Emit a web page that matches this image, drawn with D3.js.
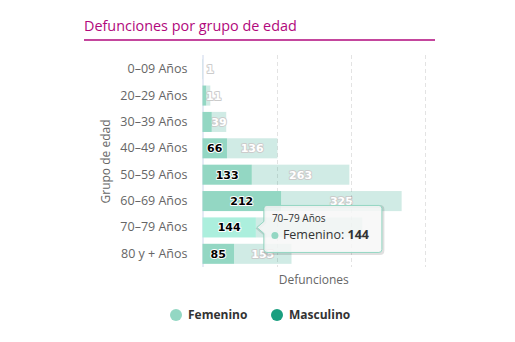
<!DOCTYPE html>
<html>
<head>
<meta charset="utf-8">
<script src="https://cdn.jsdelivr.net/npm/d3@7"></script>
<style>
  body { margin: 0; background: #fff; }
  svg { display: block; font-family: "Open Sans", sans-serif; }
</style>
</head>
<body>
<div class="chart"></div>
<script>
var svgWidth = 515;
var svgHeight = 342;

// age groups and deaths by sex
var grupos = ["0–09 Años", "20–29 Años", "30–39 Años", "40–49 Años", "50–59 Años", "60–69 Años", "70–79 Años", "80 y + Años"];
var femenino = [0, 10, 25, 66, 133, 212, 144, 85];
var masculino = [1, 11, 39, 136, 263, 325, 287, 155];
var xTicks = [0, 200, 400, 600];

var colorFem = "#93d7c3";
var colorFemHover = "#acefdd";
var colorMasc = "#1a9e7f";

// plot area
var plot = { left: 202.5, right: 425, top: 56, bottom: 267 };

var svg = d3.select(".chart")
    .append("svg")
    .attr("width", svgWidth)
    .attr("height", svgHeight);

// title with underline
svg.append("text")
    .attr("x", 84)
    .attr("y", 31)
    .attr("fill", "#b1087c")
    .attr("font-size", "14.4px")
    .text("Defunciones por grupo de edad");

svg.append("line")
    .attr("x1", 84).attr("x2", 435)
    .attr("y1", 40).attr("y2", 40)
    .attr("stroke", "#b1087c")
    .attr("stroke-width", 1.5);

var xScale = d3.scaleLinear()
    .domain([0, 600])
    .range([plot.left, plot.right]);

var yScale = d3.scaleBand()
    .domain(grupos)
    .range([plot.top, plot.bottom])
    .paddingInner(0.24)
    .paddingOuter(0.12);

// dashed gridlines
svg.append("g")
    .selectAll("line")
    .data(xTicks.slice(1))
    .enter()
    .append("line")
    .attr("x1", d => Math.round(xScale(d)) + 0.5)
    .attr("x2", d => Math.round(xScale(d)) + 0.5)
    .attr("y1", plot.top - 1)
    .attr("y2", plot.bottom)
    .attr("stroke", "#e3e3e3")
    .attr("stroke-dasharray", "4,3");

// category axis
var leftAxis = d3.axisLeft(yScale).tickSize(0).tickPadding(15);
var yAxis = svg.append("g")
    .attr("transform", `translate(${plot.left}, 0)`)
    .call(leftAxis);
yAxis.select(".domain")
    .attr("stroke", "#ccd6eb")
    .attr("d", `M0.5,${plot.top - 1}V${plot.bottom}`);
yAxis.selectAll("text")
    .attr("fill", "#666")
    .attr("font-size", "12.5px")
    .attr("font-family", "Open Sans, sans-serif");

svg.append("text")
    .attr("transform", `translate(110, ${(plot.top + plot.bottom) / 2}) rotate(-90)`)
    .attr("text-anchor", "middle")
    .attr("fill", "#666")
    .attr("font-size", "12px")
    .text("Grupo de edad");

svg.append("text")
    .attr("x", (plot.left + plot.right) / 2)
    .attr("y", 284)
    .attr("text-anchor", "middle")
    .attr("fill", "#666")
    .attr("font-size", "12px")
    .text("Defunciones");

// stacked rows: femenino first, masculino on top of it
var rows = grupos.map(function (g, i) {
    return { grupo: g, fem: femenino[i], masc: masculino[i] };
});

var hovered = "70–79 Años";

// masculino series is drawn faded (inactive while femenino is hovered)
var mascGroup = svg.append("g").attr("opacity", 0.2);
mascGroup.selectAll("rect")
    .data(rows)
    .enter()
    .append("rect")
    .attr("x", d => xScale(d.fem))
    .attr("y", d => yScale(d.grupo))
    .attr("width", d => xScale(d.fem + d.masc) - xScale(d.fem))
    .attr("height", yScale.bandwidth())
    .attr("fill", colorMasc);

var femGroup = svg.append("g");
femGroup.selectAll("rect")
    .data(rows)
    .enter()
    .append("rect")
    .attr("x", xScale(0))
    .attr("y", d => yScale(d.grupo))
    .attr("width", d => xScale(d.fem) - xScale(0))
    .attr("height", yScale.bandwidth())
    .attr("fill", d => d.grupo === hovered ? colorFemHover : colorFem);

// data labels; text colour contrasts with the bar, outline the opposite
function addLabels(group, data, x0, x1, val, always, fill, outline) {
    group.selectAll("text.lbl")
        .data(data)
        .enter()
        .append("text")
        .attr("class", "lbl")
        .attr("x", function (d) {
            var c = (xScale(x0(d)) + xScale(x1(d))) / 2;
            return Math.max(c, plot.left + 4 + String(val(d)).length * 3.6);
        })
        .attr("y", d => yScale(d.grupo) + yScale.bandwidth() / 2)
        .attr("dy", "0.36em")
        .attr("text-anchor", "middle")
        .attr("font-family", "DejaVu Sans, Verdana, sans-serif")
        .attr("font-size", "11px")
        .attr("font-weight", "bold")
        .attr("fill", fill)
        .attr("stroke", outline)
        .attr("stroke-width", 2)
        .attr("stroke-linejoin", "round")
        .attr("paint-order", "stroke")
        .attr("display", function (d) {
            var w = xScale(x1(d)) - xScale(x0(d));
            return (always || w > String(val(d)).length * 7.5) ? null : "none";
        })
        .text(val);
}

// the masculino label of the hovered row sits under the tooltip
addLabels(mascGroup, rows.filter(d => d.grupo !== hovered), d => d.fem, d => d.fem + d.masc, d => d.masc, true, "#fff", "#000");
addLabels(femGroup, rows, d => 0, d => d.fem, d => d.fem, false, "#000", "#fff");

// tooltip for the hovered femenino point
var hp = rows.find(d => d.grupo === hovered);
var tipX = xScale(hp.fem) + 1;
var tipY = yScale(hp.grupo) + yScale.bandwidth() / 2;
var box = { x: tipX + 7, y: tipY - 22, w: 118, h: 47 };

var tip = svg.append("g");
var tipPath = `M${box.x + 3},${box.y} H${box.x + box.w - 3} Q${box.x + box.w},${box.y} ${box.x + box.w},${box.y + 3}` +
    ` V${box.y + box.h - 3} Q${box.x + box.w},${box.y + box.h} ${box.x + box.w - 3},${box.y + box.h}` +
    ` H${box.x + 3} Q${box.x},${box.y + box.h} ${box.x},${box.y + box.h - 3}` +
    ` V${tipY + 6} L${tipX},${tipY} L${box.x},${tipY - 6} V${box.y + 3} Q${box.x},${box.y} ${box.x + 3},${box.y} Z`;

tip.append("path")
    .attr("d", tipPath)
    .attr("transform", "translate(1,1)")
    .attr("fill", "none")
    .attr("stroke", "rgba(0,0,0,0.12)")
    .attr("stroke-width", 3);
tip.append("path")
    .attr("d", tipPath)
    .attr("fill", "rgba(247,247,247,0.85)")
    .attr("stroke", colorFem)
    .attr("stroke-width", 1);
tip.append("text")
    .attr("x", box.x + 8)
    .attr("y", box.y + 17)
    .attr("font-size", "10px")
    .attr("fill", "#333")
    .text(hp.grupo);
tip.append("circle")
    .attr("cx", box.x + 11)
    .attr("cy", box.y + 30)
    .attr("r", 3.5)
    .attr("fill", colorFem);
var tipLine = tip.append("text")
    .attr("x", box.x + 19)
    .attr("y", box.y + 34)
    .attr("font-size", "12.5px")
    .attr("fill", "#333");
tipLine.append("tspan").text("Femenino: ");
tipLine.append("tspan").attr("font-weight", "bold").text(hp.fem);

// legend
var series = [
    { name: "Femenino", color: colorFem, x: 176 },
    { name: "Masculino", color: colorMasc, x: 277 }
];
var legend = svg.append("g").selectAll("g")
    .data(series)
    .enter()
    .append("g")
    .attr("transform", d => `translate(${d.x}, 315)`);
legend.append("circle")
    .attr("r", 6)
    .attr("fill", d => d.color);
legend.append("text")
    .attr("x", 12)
    .attr("dy", "0.35em")
    .attr("font-size", "12px")
    .attr("font-weight", "bold")
    .attr("fill", "#333")
    .text(d => d.name);
</script>
</body>
</html>
